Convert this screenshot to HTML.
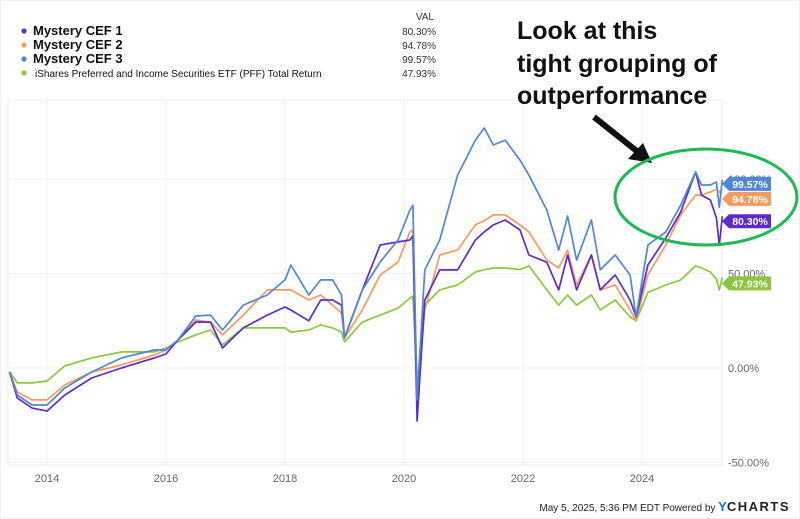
<!DOCTYPE html>
<html><head><meta charset="utf-8"><style>
body{margin:0;background:#fff;width:800px;height:519px;overflow:hidden;font-family:"Liberation Sans",sans-serif}
svg{display:block}
</style></head><body>
<svg id="c" width="800" height="519">
<rect x="0" y="0" width="800" height="519" fill="#fff" stroke="#e6e6e6"/>
<g id="grid"></g><g id="series"></g><g id="flags"></g>
<g>
<text x="434" y="20" font-size="10" fill="#333" text-anchor="end">VAL</text>
</g>
<g id="legend"></g>
<g>
<text x="517" y="39" font-size="25" font-weight="bold" fill="#111">Look at this</text>
<text x="517" y="72" font-size="25" font-weight="bold" fill="#111">tight grouping of</text>
<text x="517" y="104" font-size="25" font-weight="bold" fill="#111">outperformance</text>
<line x1="594" y1="117" x2="638" y2="152" stroke="#111" stroke-width="6"/>
<polygon points="652,163 628,159 643,143" fill="#111"/>
<ellipse cx="706" cy="197" rx="91" ry="48" fill="none" stroke="#1db954" stroke-width="3"/>
</g>
<text x="790" y="511" font-size="10" fill="#222" text-anchor="end">May 5, 2025, 5:36 PM EDT Powered by <tspan fill="#1a6fd8" font-weight="bold" font-size="13">Y</tspan><tspan font-weight="bold" font-size="13" letter-spacing="1.5">CHARTS</tspan></text>
</svg>
<script>
const dates=[2013.37,2013.5,2013.75,2014.0,2014.3,2014.75,2015.25,2015.8,2016.0,2016.2,2016.5,2016.75,2016.95,2017.3,2017.7,2018.0,2018.1,2018.4,2018.6,2018.8,2018.95,2019.0,2019.3,2019.6,2019.9,2020.1,2020.15,2020.22,2020.35,2020.6,2020.9,2021.2,2021.35,2021.5,2021.7,2021.95,2022.1,2022.4,2022.6,2022.75,2022.9,2023.15,2023.3,2023.55,2023.8,2023.9,2024.1,2024.4,2024.65,2024.9,2025.0,2025.15,2025.25,2025.3,2025.35];
const cef1=[-2,-15.9,-21.2,-22.8,-14.3,-5.3,0,5.3,7.4,14.8,24.3,24.3,10.6,21.2,28,32.3,30.7,25,36,36,33.3,15.9,41.3,65.1,66.7,67.7,70,-28,36,51.9,51.9,67.7,72,75.7,78.3,73,59.8,56,41.3,59.8,41.3,59.8,41.3,49.2,36,27,54.5,68.8,82.5,103.7,91.5,88.9,79.4,65,80.30];
const cef2=[-2,-12.7,-16.9,-16.9,-9,-2.1,1.6,6.9,9.5,14.8,25.4,24.3,17.5,28,41.3,41.3,41.3,36,38.6,33.3,29.1,15.9,30.7,49.2,56.1,72,73,-14.3,30.7,59.8,62.4,75.7,78,81,81,75.7,72,57.1,52.9,62.4,43.9,59.8,41.3,43.9,30.7,25,49.2,65.1,81,91.5,91.5,93.1,94.5,93,94.78];
const cef3=[-2,-14.3,-19.6,-19.6,-10.6,-2.1,5.3,9.5,9.5,14.8,27.5,28,20.1,33.3,38.6,46.6,54.5,38.6,46.6,46.6,38.6,15.9,41.3,56.1,67.7,83.6,86,-16.9,51.9,67.7,102,120.6,127,118,120.6,110,102,83.6,62.4,80.4,57.1,78.3,51.9,59.8,49.2,27,65.1,72,86.2,103.7,96.8,96.8,98.4,85,99.57];
const pff=[-2,-7.9,-7.9,-6.9,1.1,5.3,8.5,8.5,10.6,13.8,17.5,20.1,12.2,21.2,21.2,21.2,19,20.1,22.8,21.2,19,13.8,24.3,28,31.7,37,38,-9,33.3,41.3,43.9,50.8,52,52.9,52.9,52.1,54,41.3,33.3,38.6,33.3,38.6,30.7,36,27,25,40,43.9,46.6,54,52.9,50.8,47,41.3,47.93];
const names=["Mystery CEF 1","Mystery CEF 2","Mystery CEF 3","iShares Preferred and Income Securities ETF (PFF) Total Return"];
const lastVals=["80.30%","94.78%","99.57%","47.93%"];
const yTicks=[100,50,0,-50];
const xTicks=[2014,2016,2018,2020,2022,2024];
const colors=["#5b2bd0","#f79a5e","#4f86d9","#8cc63f"];
const X=t=>47+(t-2014)*59.5, Y=v=>368-v*1.89;
const NS="http://www.w3.org/2000/svg";
function mk(tag,attrs,parent){const e=document.createElementNS(NS,tag);for(const k in attrs)e.setAttribute(k,attrs[k]);parent.appendChild(e);return e;}
const grid=document.getElementById('grid');
const pl=mk('rect',{x:8,y:100,width:714,height:365,fill:'none',stroke:'#eeeeee'},grid);


yTicks.forEach(v=>{
 const l=mk('line',{x1:8,x2:722,y1:Y(v),y2:Y(v),stroke:'#f0f0f0'},grid);
 
 
 const t=mk('text',{x:728,y:Y(v)+4,'font-size':11,fill:'#666'},grid);t.textContent=v.toFixed(2)+'%';
 
 
});
xTicks.forEach(v=>{
 const l=mk('line',{x1:X(v),x2:X(v),y1:100,y2:465,stroke:'#f0f0f0'},grid);
 
 
 const t=mk('text',{x:X(v),y:482,'font-size':11,fill:'#666','text-anchor':'middle'},grid);t.textContent=v;
 
 
});
const sg=document.getElementById('series');
[pff,cef2,cef1,cef3].forEach((s,k)=>{
 const idx=[3,1,0,2][k];
 const p=mk('polyline',{points:s.map((v,i)=>X(dates[i]).toFixed(1)+','+Y(v).toFixed(1)).join(' '),fill:'none',stroke:colors[idx],'stroke-width':1.7,'stroke-linejoin':'round'},sg);
 
 
});
const fg=document.getElementById('flags');
const flagOff=[5,10,4,6];
const all=[cef1,cef2,cef3,pff];
[2,1,0,3].forEach(i=>{
 const y=Y(all[i][all[i].length-1])+flagOff[i];
 const g=mk('g',{},fg);
 
 
 mk('polygon',{points:`722,${y} 729,${y-7} 771,${y-7} 771,${y+7} 729,${y+7}`,fill:colors[i]},g);
 const t=mk('text',{x:750,y:y+4,'font-size':10.5,'font-weight':'bold',fill:'#fff','text-anchor':'middle'},g);t.textContent=lastVals[i];
});
const lg=document.getElementById('legend');
names.forEach((n,i)=>{
 const y=35+i*14;
 const g=mk('g',{},lg);
 
 
 mk('circle',{cx:24,cy:y-4,r:2.6,fill:colors[i]},g);
 const t=mk('text',{x:i<3?33:35,y:y,'font-size':i<3?13:10,'font-weight':i<3?'bold':'normal',fill:'#111'},g);t.textContent=n;
 const v=mk('text',{x:436,y:y,'font-size':10,fill:'#333','text-anchor':'end'},g);v.textContent=lastVals[i];
});
</script>
</body></html>
